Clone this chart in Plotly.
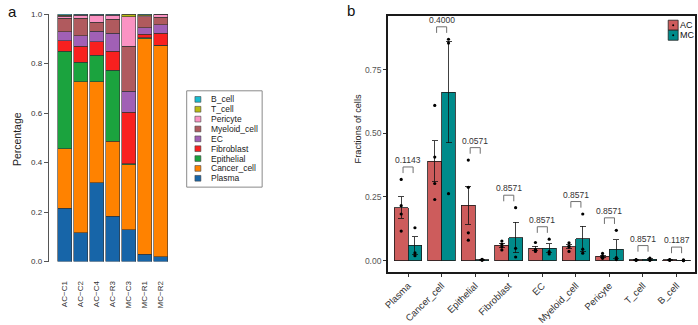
import numpy as np
import plotly.graph_objects as go

W, H = 698, 325
def px(x): return x / W
def py(y): return 1 - y / H

FONT = "Liberation Sans, Arial, sans-serif"

# ---------------- data ----------------
samples = ["AC−C1", "AC−C2", "AC−C4", "AC−R3", "MC−C3", "MC−R1", "MC−R2"]
sample_group = ["AC", "AC", "AC", "AC", "MC", "MC", "MC"]
cell_types = ["Plasma", "Cancer_cell", "Epithelial", "Fibroblast", "EC",
              "Myeloid_cell", "Pericyte", "T_cell", "B_cell"]

plasma      = [0.216, 0.116, 0.319, 0.183, 0.129, 0.030, 0.019]
cancer_cell = [0.240, 0.610, 0.407, 0.303, 0.263, 0.870, 0.855]
epithelial  = [0.395, 0.080, 0.109, 0.288, 0.004, 0.005, 0.001]
fibroblast  = [0.042, 0.065, 0.054, 0.077, 0.208, 0.014, 0.048]
ec          = [0.036, 0.042, 0.043, 0.071, 0.084, 0.026, 0.035]
myeloid     = [0.054, 0.070, 0.036, 0.057, 0.183, 0.045, 0.029]
pericyte    = [0.009, 0.013, 0.028, 0.017, 0.119, 0.004, 0.012]
t_cell      = [0.004, 0.002, 0.002, 0.002, 0.010, 0.003, 0.001]
b_cell      = [0.004, 0.002, 0.002, 0.002, 0.000, 0.003, 0.000]

fractions = {
    "Plasma": plasma, "Cancer_cell": cancer_cell, "Epithelial": epithelial,
    "Fibroblast": fibroblast, "EC": ec, "Myeloid_cell": myeloid,
    "Pericyte": pericyte, "T_cell": t_cell, "B_cell": b_cell,
}
p_values = ["0.1143", "0.4000", "0.0571", "0.8571", "0.8571",
            "0.8571", "0.8571", "0.8571", "0.1187"]

y_ticks_a = [0, 0.2, 0.4, 0.6, 0.8, 1.0]
y_ticks_b = [0, 0.25, 0.5, 0.75]

colors = {
    "Plasma": "#1765A8", "Cancer_cell": "#FF8200", "Epithelial": "#1BA33E",
    "Fibroblast": "#F8201F", "EC": "#A160B5", "Myeloid_cell": "#B05A5E",
    "Pericyte": "#FA93C3", "T_cell": "#BABA12", "B_cell": "#1ABCD0",
}
group_colors = {"AC": "#CD5C5C", "MC": "#008B8B"}

fig = go.Figure()

# ---------------- panel a: stacked bars ----------------
for ct in cell_types:
    fig.add_trace(go.Bar(
        x=samples, y=fractions[ct], name=ct,
        marker=dict(color=colors[ct], line=dict(color="#333333", width=0.6)),
        xaxis="x", yaxis="y", showlegend=False, hoverinfo="x+y+name"))

# ---------------- panel b: grouped bars ----------------
idx = np.arange(len(cell_types))
half = 0.205
stats = {}
for g, sign in (("AC", -1), ("MC", 1)):
    means, ses, xs_pts, ys_pts = [], [], [], []
    for i, ct in enumerate(cell_types):
        vals = np.array([v for v, sg in zip(fractions[ct], sample_group) if sg == g])
        means.append(vals.mean())
        ses.append(vals.std(ddof=1) / np.sqrt(len(vals)))
        xs_pts += [i + sign * half] * len(vals)
        ys_pts += list(vals)
    stats[g] = (means, ses, xs_pts, ys_pts)
    fig.add_trace(go.Bar(
        x=idx + sign * half, y=means, width=2 * half, name=g,
        marker=dict(color=group_colors[g], line=dict(color="#1a1a1a", width=0.8)),
        error_y=dict(type="data", array=ses, color="#111111", thickness=0.8, width=3),
        xaxis="x2", yaxis="y2", showlegend=False))
for g in ("AC", "MC"):
    _, _, xs_pts, ys_pts = stats[g]
    fig.add_trace(go.Scatter(
        x=xs_pts, y=ys_pts, mode="markers",
        marker=dict(color="black", size=3.2),
        xaxis="x2", yaxis="y2", showlegend=False, hoverinfo="y"))

shapes = []
annotations = []

# brackets with p-values
for i, ct in enumerate(cell_types):
    top_val = max(fractions[ct])
    yb = top_val + 0.025
    yt = yb + 0.024
    x0, x1 = i - 0.15, i + 0.15
    shapes.append(dict(type="path", xref="x2", yref="y2",
                       path=f"M {x0},{yb} L {x0},{yt} L {x1},{yt} L {x1},{yb}",
                       line=dict(color="#707070", width=1)))
    annotations.append(dict(x=i, y=yt, xref="x2", yref="y2", text=p_values[i],
                            showarrow=False, yanchor="bottom", yshift=0,
                            font=dict(size=8.5, color="#333333", family=FONT)))

# legend panel a
leg_items = list(reversed(cell_types))
shapes.append(dict(type="rect", xref="paper", yref="paper",
                   x0=px(183), x1=px(259), y0=py(192), y1=py(91),
                   line=dict(color="#8a8a8a", width=1), fillcolor="white"))
for k, ct in enumerate(leg_items):
    yc = 100 + 10.34 * k
    shapes.append(dict(type="rect", xref="paper", yref="paper",
                       x0=px(191.3), x1=px(197.3), y0=py(yc + 3), y1=py(yc - 3),
                       line=dict(color="#444444", width=0.6), fillcolor=colors[ct]))
    annotations.append(dict(x=px(205), y=py(yc), xref="paper", yref="paper",
                            text=ct, showarrow=False, xanchor="left", yanchor="middle",
                            font=dict(size=8.5, color="#222222", family=FONT)))

# legend panel b
for k, g in enumerate(("AC", "MC")):
    y0 = 17 + 10.5 * k
    shapes.append(dict(type="rect", xref="paper", yref="paper",
                       x0=px(668), x1=px(678), y0=py(y0 + 10.5), y1=py(y0),
                       line=dict(color="#222222", width=0.8), fillcolor=group_colors[g]))
    shapes.append(dict(type="circle", xref="paper", yref="paper",
                       x0=px(672), x1=px(674), y0=py(y0 + 6.25), y1=py(y0 + 4.25),
                       line=dict(color="black", width=0), fillcolor="black"))
    annotations.append(dict(x=px(679.5), y=py(y0 + 5.25), xref="paper", yref="paper",
                            text=g, showarrow=False, xanchor="left", yanchor="middle",
                            borderpad=0, borderwidth=0,
                            font=dict(size=9, color="#111111", family=FONT)))

# titles / panel letters
annotations += [
    dict(x=px(1), y=py(8), xref="paper", yref="paper", text="a", showarrow=False,
         xanchor="left", yanchor="middle", font=dict(size=15, color="#111111", family=FONT)),
    dict(x=px(342), y=py(7), xref="paper", yref="paper", text="b", showarrow=False,
         xanchor="left", yanchor="middle", font=dict(size=15, color="#111111", family=FONT)),
    dict(x=px(12), y=py(141.7), xref="paper", yref="paper", text="Percentage",
         showarrow=False, textangle=-90, xanchor="center", yanchor="middle",
         font=dict(size=10.5, color="#222222", family=FONT)),
    dict(x=px(356), y=py(131), xref="paper", yref="paper", text="Fractions of cells",
         showarrow=False, textangle=-90, xanchor="center", yanchor="middle",
         font=dict(size=9.2, color="#222222", family=FONT)),
]

fig.update_layout(
    width=W, height=H, autosize=False,
    margin=dict(l=0, r=0, t=0, b=0),
    paper_bgcolor="white", plot_bgcolor="white",
    barmode="stack", bargap=0.13,
    font=dict(family=FONT),
    showlegend=False,
    shapes=shapes, annotations=annotations,
    xaxis=dict(domain=[px(52.25), px(164.95)], range=[-0.5, 6.5], type="category",
               anchor="y", showline=False, ticks="", tickangle=-90, showgrid=False,
               tickfont=dict(size=8, color="#333333", family=FONT), ticklabelstandoff=17,
               zeroline=False),
    yaxis=dict(domain=[py(270), py(10.7)], range=[0, 1], anchor="free", position=px(43),
               showline=True, linecolor="#555555", linewidth=0.8, ticks="outside",
               ticklen=4, tickcolor="#555555", tickwidth=0.8,
               tickvals=y_ticks_a, ticktext=[f"{v:.1f}" for v in y_ticks_a],
               tickfont=dict(size=8, color="#333333", family=FONT), showgrid=False,
               zeroline=False),
    xaxis2=dict(domain=[px(385.7), px(695)], range=[-0.6, 8.55], anchor="y2",
                showline=True, mirror=True, linecolor="#1a1a1a", linewidth=1.6,
                ticks="outside", ticklen=3, tickcolor="#333333", tickwidth=0.8,
                tickvals=list(idx), ticktext=cell_types, tickangle=-45,
                tickfont=dict(size=9.5, color="#333333", family=FONT),
                showgrid=False, zeroline=False),
    yaxis2=dict(domain=[py(280.7), py(12.3)], range=[-0.0439, 0.9625], anchor="x2",
                showline=True, mirror=True, linecolor="#1a1a1a", linewidth=1.6,
                ticks="outside", ticklen=3, tickcolor="#333333", tickwidth=0.8,
                tickvals=y_ticks_b, ticktext=[f"{v:.2f}" for v in y_ticks_b],
                tickfont=dict(size=8.5, color="#555555", family=FONT),
                showgrid=False, zeroline=False),
)

fig.write_html(
    "out.html",
    config={"displayModeBar": False},
    post_script="document.body.style.margin='0';document.body.style.padding='0';"
                "document.body.style.overflow='hidden';",
)
